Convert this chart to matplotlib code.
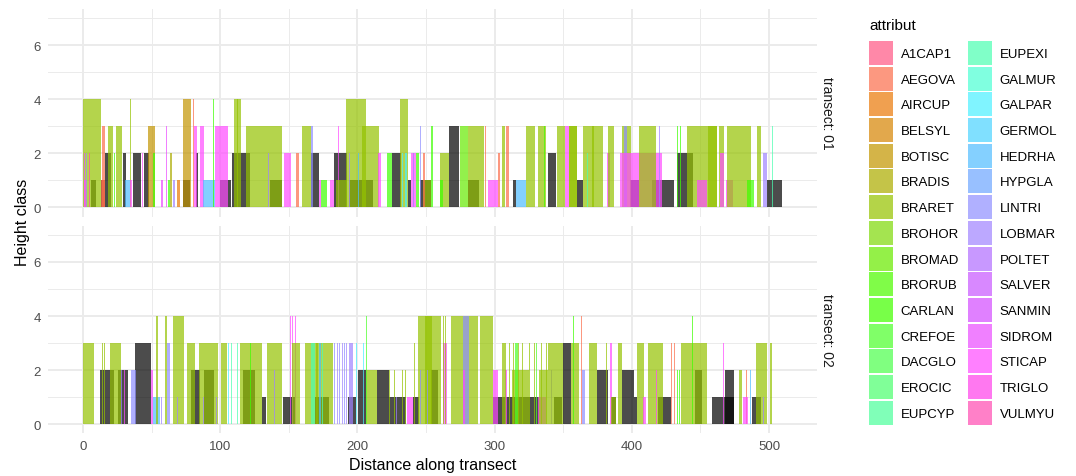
import numpy as np
import matplotlib.pyplot as plt
import matplotlib.colors as mcolors
from matplotlib.patches import Patch

# species codes and their legend key colours (as seen, alpha already applied)
species = ["A1CAP1", "AEGOVA", "AIRCUP", "BELSYL", "BOTISC", "BRADIS", "BRARET",
           "BROHOR", "BROMAD", "BRORUB", "CARLAN", "CREFOE", "DACGLO", "EROCIC",
           "EUPCYP", "EUPEXI", "GALMUR", "GALPAR", "GERMOL", "HEDRHA", "HYPGLA",
           "LINTRI", "LOBMAR", "POLTET", "SALVER", "SANMIN", "SIDROM", "STICAP",
           "TRIGLO", "VULMYU"]
key_hex = ["#FF88A8", "#FC9880", "#F0A050", "#E2A84C", "#D4B448", "#C4C448", "#B4D448",
           "#A4E450", "#94F048", "#80FC48", "#78FF48", "#80FF68", "#80FF80", "#80FF98",
           "#80FFB8", "#80FFC8", "#80FFE0", "#80F4FF", "#80E0FF", "#84D0FF", "#98C0FF",
           "#B0B0FF", "#BCA8FF", "#C898FF", "#D888FF", "#E080FF", "#F080FF", "#FF80FF",
           "#FF78F0", "#FF80C8"]

# segments along each transect: (start, end, height class, species)
seg_t01 = [
    (0.0, 12.9, 4, "BRARET"), (0.5, 1.4, 2, "SIDROM"), (2.4, 3.2, 2, "LOBMAR"),
    (4.4, 5.4, 2, "VULMYU"), (1.0, 2.0, 1, "STICAP"), (6.1, 9.7, 1, "NA"),
    (12.9, 16.3, 1, "NA"), (12.9, 16.3, 1, "AEGOVA"), (13.9, 15.8, 3, "AEGOVA"),
    (16.3, 20.2, 2, "NA"), (18.2, 22.1, 3, "BRARET"), (22.3, 22.9, 2, "CARLAN"),
    (24.1, 28.4, 3, "BRARET"), (29.2, 31.4, 2, "NA"), (30.4, 34.0, 1, "HEDRHA"),
    (34.5, 35.0, 4, "BRARET"), (34.5, 35.7, 1, "STICAP"), (36.5, 42.5, 2, "NA"),
    (43.0, 43.6, 2, "STICAP"), (44.5, 47.9, 2, "NA"), (47.4, 52.3, 3, "BOTISC"),
    (51.3, 52.3, 2, "CARLAN"), (56.6, 58.6, 1, "SIDROM"), (60.3, 61.0, 3, "SIDROM"),
    (62.0, 63.2, 1, "CARLAN"), (63.4, 64.9, 2, "BRADIS"), (65.6, 66.8, 1, "LOBMAR"),
    (68.5, 70.5, 1, "AIRCUP"), (72.9, 77.8, 1, "NA"), (72.9, 78.5, 4, "BOTISC"),
    (80.0, 80.5, 4, "AEGOVA"), (81.0, 82.9, 3, "STICAP"), (82.6, 83.8, 2, "NA"),
    (85.1, 88.2, 3, "STICAP"), (87.7, 96.0, 1, "HEDRHA"), (94.8, 95.5, 4, "CARLAN"),
    (96.0, 105.7, 3, "STICAP"), (99.6, 108.1, 1, "NA"), (108.9, 110.6, 2, "NA"),
    (110.6, 121.5, 2, "NA"), (110.1, 115.4, 4, "BRARET"), (112.0, 112.8, 4, "BRARET"),
    (118.6, 145.1, 3, "BRARET"), (136.1, 145.1, 1, "NA"), (134.6, 135.4, 2, "LOBMAR"),
    (146.5, 151.4, 2, "STICAP"), (155.5, 157.5, 2, "AEGOVA"), (159.7, 166.5, 3, "BRARET"),
    (166.0, 167.7, 3, "LINTRI"), (166.5, 172.2, 2, "NA"), (171.7, 173.2, 1, "STICAP"),
    (173.2, 178.1, 1, "CARLAN"), (180.0, 183.2, 1, "STICAP"), (185.6, 186.3, 3, "STICAP"),
    (183.2, 192.2, 2, "NA"), (184.4, 192.2, 1, "BRARET"), (194.1, 211.1, 1, "NA"),
    (191.7, 206.3, 4, "BRARET"), (203.3, 207.5, 3, "BRARET"), (207.5, 215.5, 3, "BRARET"),
    (194.0, 194.6, 2, "LOBMAR"), (200.8, 201.4, 2, "HEDRHA"), (214.8, 217.2, 2, "STICAP"),
    (221.3, 225.2, 2, "CARLAN"), (225.2, 231.8, 2, "NA"), (231.3, 236.9, 4, "BRARET"),
    (232.5, 233.4, 2, "GALPAR"), (235.0, 235.9, 2, "GALPAR"), (236.6, 239.1, 1, "NA"),
    (239.1, 242.7, 2, "STICAP"), (240.5, 241.1, 2, "LOBMAR"), (242.7, 245.1, 2, "CARLAN"),
    (245.6, 253.6, 1, "NA"), (247.6, 253.6, 1, "BRARET"), (248.0, 249.5, 2, "AEGOVA"),
    (245.6, 246.2, 3, "LINTRI"), (253.6, 255.3, 3, "CARLAN"), (255.5, 256.1, 3, "AEGOVA"),
    (260.2, 266.5, 2, "BRARET"), (260.2, 262.1, 1, "CARLAN"), (266.5, 273.8, 3, "NA"),
    (274.8, 280.4, 3, "BROMAD"), (280.4, 288.9, 1, "NA"), (280.4, 292.5, 3, "BRARET"),
    (293.2, 293.7, 3, "AEGOVA"), (295.0, 302.3, 1, "STICAP"), (302.7, 304.2, 2, "AEGOVA"),
    (305.4, 307.8, 3, "BRARET"), (308.3, 310.3, 3, "AEGOVA"), (313.2, 315.6, 1, "NA"),
    (315.6, 322.9, 1, "HEDRHA"), (322.9, 329.4, 3, "BRARET"), (331.4, 337.5, 3, "BRARET"),
    (335.8, 336.6, 3, "CARLAN"), (339.2, 344.5, 2, "NA"), (345.2, 351.3, 3, "BRARET"),
    (351.3, 354.5, 3, "STICAP"), (354.5, 360.3, 3, "BRARET"), (354.5, 360.3, 3, "BRARET"),
    (360.3, 364.4, 1, "NA"), (364.4, 379.0, 3, "BRARET"), (371.2, 372.4, 3, "BRARET"),
    (367.1, 367.9, 2, "EUPEXI"), (382.2, 384.1, 2, "STICAP"), (382.7, 387.0, 3, "BRARET"),
    (393.1, 399.7, 3, "BRARET"), (394.3, 396.8, 3, "LINTRI"), (391.2, 421.8, 2, "STICAP"),
    (398.7, 405.3, 1, "NA"), (405.3, 417.4, 3, "BRARET"), (420.0, 420.6, 3, "LOBMAR"),
    (415.0, 430.8, 1, "NA"), (433.2, 440.0, 2, "NA"), (433.1, 433.8, 3, "CARLAN"),
    (435.0, 435.7, 3, "CARLAN"), (440.0, 444.9, 2, "NA"), (440.0, 461.9, 3, "BRARET"),
    (455.6, 461.9, 3, "BRARET"), (447.8, 455.1, 1, "STICAP"), (463.6, 467.2, 3, "BRARET"),
    (464.1, 467.2, 2, "STICAP"), (468.4, 474.0, 1, "STICAP"), (469.7, 486.7, 3, "BRARET"),
    (483.8, 489.1, 1, "CARLAN"), (491.5, 494.4, 3, "BRARET"), (495.7, 498.3, 2, "LOBMAR"),
    (498.8, 509.5, 1, "NA"), (502.0, 503.2, 3, "EUPEXI"),
]

seg_t02 = [
    (0.0, 8.0, 3, "BRARET"), (13.9, 14.4, 3, "BRARET"), (15.3, 15.8, 3, "BRARET"),
    (12.4, 19.4, 2, "NA"), (19.4, 22.6, 2, "NA"), (19.4, 27.5, 3, "BRARET"),
    (25.5, 32.8, 2, "NA"), (27.4, 28.0, 2, "LOBMAR"), (29.9, 30.9, 2, "STICAP"),
    (35.2, 38.9, 2, "LINTRI"), (38.2, 49.8, 3, "NA"), (49.3, 51.3, 2, "STICAP"),
    (51.0, 55.9, 1, "HEDRHA"), (53.5, 54.4, 4, "BRARET"), (57.1, 57.7, 1, "LOBMAR"),
    (60.0, 61.5, 4, "BRARET"), (61.5, 63.4, 3, "LINTRI"), (65.6, 73.4, 4, "BRARET"),
    (68.5, 69.3, 1, "LOBMAR"), (76.1, 81.9, 3, "BRARET"), (79.0, 85.0, 2, "NA"),
    (84.3, 98.4, 3, "BRARET"), (88.2, 95.5, 2, "NA"), (87.7, 88.3, 1, "LOBMAR"),
    (96.8, 97.4, 1, "LOBMAR"), (100.8, 104.7, 3, "BRARET"), (105.7, 106.3, 3, "GALPAR"),
    (108.1, 108.7, 3, "EUPEXI"), (112.5, 113.1, 3, "EUPEXI"), (114.2, 130.5, 3, "BRARET"),
    (116.6, 125.1, 2, "NA"), (121.7, 122.7, 3, "CARLAN"), (130.5, 133.6, 1, "NA"),
    (134.1, 145.1, 3, "BRARET"), (139.2, 139.8, 2, "LOBMAR"), (145.8, 154.3, 1, "NA"),
    (150.9, 151.4, 4, "STICAP"), (152.6, 153.1, 4, "STICAP"), (154.3, 155.0, 4, "STICAP"),
    (152.6, 158.0, 3, "BRARET"), (161.6, 171.3, 3, "BRARET"), (166.5, 168.9, 3, "EUPEXI"),
    (168.9, 171.3, 1, "NA"), (169.8, 182.0, 3, "BRARET"), (172.2, 173.2, 3, "HEDRHA"),
    (174.2, 174.7, 3, "EUPEXI"), (169.8, 179.5, 1, "NA"), (183.2, 183.8, 3, "LINTRI"),
    (184.9, 185.5, 3, "LOBMAR"), (186.8, 187.4, 3, "LINTRI"), (188.8, 189.4, 3, "LOBMAR"),
    (190.5, 191.1, 3, "LINTRI"), (191.7, 192.3, 3, "LOBMAR"), (194.1, 196.5, 3, "LOBMAR"),
    (192.9, 199.0, 1, "NA"), (199.0, 199.7, 3, "GALPAR"), (203.8, 204.5, 3, "GALPAR"),
    (200.2, 206.3, 2, "NA"), (206.3, 214.3, 2, "BRARET"), (206.3, 206.8, 4, "CREFOE"),
    (214.3, 222.8, 2, "NA"), (223.3, 223.8, 2, "BRARET"), (226.9, 227.4, 2, "BRARET"),
    (232.5, 233.0, 2, "BRARET"), (234.9, 235.4, 2, "BRARET"), (222.8, 235.4, 1, "NA"),
    (228.1, 228.7, 1, "LOBMAR"), (235.9, 240.3, 1, "STICAP"), (241.5, 242.0, 3, "BRARET"),
    (240.3, 245.1, 1, "NA"), (244.4, 260.9, 4, "BRARET"), (249.5, 254.1, 4, "BRARET"),
    (253.6, 258.5, 2, "NA"), (245.6, 246.2, 2, "LINTRI"), (250.5, 251.1, 2, "LINTRI"),
    (262.1, 265.1, 3, "STICAP"), (262.1, 262.7, 4, "BRARET"), (264.1, 264.6, 4, "BRARET"),
    (268.2, 287.7, 4, "BRARET"), (277.0, 281.1, 4, "LINTRI"), (276.7, 278.7, 2, "STICAP"),
    (289.4, 299.1, 4, "BRARET"), (298.6, 309.5, 1, "NA"), (299.1, 302.2, 2, "STICAP"),
    (307.8, 308.8, 2, "STICAP"), (305.4, 308.3, 3, "BRARET"), (310.7, 311.2, 3, "BRARET"),
    (313.6, 314.1, 3, "BRARET"), (316.8, 317.3, 3, "BRARET"), (320.0, 320.5, 3, "BRARET"),
    (325.3, 325.8, 3, "BRARET"), (329.0, 329.5, 3, "BRARET"), (312.7, 325.3, 2, "BRARET"),
    (314.9, 316.8, 3, "CREFOE"), (330.2, 330.8, 3, "CREFOE"), (309.5, 332.6, 1, "NA"),
    (331.4, 337.5, 1, "STICAP"), (332.1, 338.7, 2, "BRARET"), (334.1, 334.6, 3, "BRARET"),
    (337.6, 338.1, 3, "BRARET"), (341.1, 341.7, 2, "LOBMAR"), (338.7, 350.1, 3, "BRARET"),
    (343.3, 349.4, 1, "NA"), (350.1, 355.5, 3, "NA"), (355.5, 361.5, 3, "BRARET"),
    (357.2, 357.7, 4, "CARLAN"), (363.0, 363.5, 4, "AEGOVA"), (364.0, 365.7, 2, "LINTRI"),
    (368.8, 374.9, 3, "BRARET"), (374.9, 382.7, 2, "NA"), (381.4, 382.1, 3, "BRARET"),
    (384.1, 385.3, 3, "STICAP"), (384.6, 388.3, 1, "NA"), (384.6, 388.3, 1, "BRARET"),
    (390.0, 393.1, 3, "BRARET"), (393.1, 401.6, 2, "NA"), (401.6, 404.0, 1, "NA"),
    (404.0, 408.9, 3, "BRARET"), (408.4, 410.6, 1, "STICAP"), (411.8, 422.5, 3, "BRARET"),
    (418.0, 418.7, 2, "STICAP"), (419.4, 428.4, 1, "NA"), (428.8, 429.3, 3, "AEGOVA"),
    (430.7, 431.2, 3, "AEGOVA"), (432.7, 433.4, 2, "CARLAN"), (434.6, 435.3, 2, "CARLAN"),
    (435.6, 455.1, 3, "BRARET"), (443.9, 444.4, 4, "CARLAN"), (445.8, 451.4, 2, "NA"),
    (466.5, 467.2, 3, "STICAP"), (458.2, 474.5, 1, "NA"), (467.7, 474.5, 2, "NA"),
    (478.4, 480.6, 2, "BRARET"), (483.6, 484.1, 2, "AEGOVA"), (481.1, 484.7, 1, "STICAP"),
    (486.0, 486.7, 2, "HEDRHA"), (487.9, 494.0, 1, "NA"), (490.3, 498.8, 3, "BRARET"),
    (500.8, 502.0, 3, "BRARET"), (495.9, 496.6, 1, "LOBMAR"),
]

facets = ["transect: 01", "transect: 02"]
x_ticks = [0, 100, 200, 300, 400, 500]
y_ticks = [0, 2, 4, 6]

ALPHA = 0.7
plt.rcParams['font.family'] = ['Liberation Sans', 'DejaVu Sans']

key_rgb = np.array([mcolors.to_rgb(c) for c in key_hex])
base_rgb = np.clip((key_rgb - (1 - ALPHA)) / ALPHA, 0, 1)
fill = {sp: tuple(c) for sp, c in zip(species, base_rgb)}
fill["NA"] = (0.0, 0.0, 0.0)

fig = plt.figure(figsize=(10.76, 4.77), dpi=100, facecolor="white")
ax1 = fig.add_axes([0.0446, 0.544, 0.7147, 0.436])
ax2 = fig.add_axes([0.0446, 0.0891, 0.7147, 0.436])

for ax, segs, lab in zip([ax1, ax2], [seg_t01, seg_t02], facets):
    # unassigned (NA) segments are drawn underneath the species
    segs = [s for s in segs if s[3] == "NA"] + [s for s in segs if s[3] != "NA"]
    x0 = np.array([s[0] for s in segs])
    x1 = np.array([s[1] for s in segs])
    h = np.array([s[2] for s in segs])
    cols = [fill[s[3]] for s in segs]
    ax.bar(x0, h, width=np.maximum(x1 - x0, 0.7), align="edge", color=cols,
           alpha=ALPHA, linewidth=0, zorder=3)

    ax.set_xlim(-25.5, 535)
    ax.set_ylim(-0.35, 7.35)
    ax.set_xticks(x_ticks)
    ax.set_xticks([50, 150, 250, 350, 450], minor=True)
    ax.set_yticks(y_ticks)
    ax.set_yticks([1, 3, 5, 7], minor=True)
    ax.grid(True, which="major", color="#EBEBEB", linewidth=1.4, zorder=0)
    ax.grid(True, which="minor", color="#EBEBEB", linewidth=0.7, zorder=0)
    ax.set_axisbelow(True)
    for sp in ax.spines.values():
        sp.set_visible(False)
    ax.tick_params(which="both", length=0, labelsize=9.5, labelcolor="#4D4D4D", pad=5)
    ax.text(1.013, 0.5, lab, transform=ax.transAxes, rotation=-90, ha="center",
            va="center", fontsize=10, color="#1A1A1A")

ax1.tick_params(axis="x", labelbottom=False)

fig.text(0.0205, 1 - 222 / 477, "Height class", rotation=90, ha="center", va="center",
         fontsize=11.5)
fig.text(0.402, 1 - 466 / 477, "Distance along transect", ha="center", va="center",
         fontsize=11.5)

handles = [Patch(facecolor=c, edgecolor="none") for c in key_hex]
leg = fig.legend(handles, species, ncol=2, loc="upper left",
                 bbox_to_anchor=(857 / 1076, 1 - 7 / 477), frameon=False,
                 title="attribut", title_fontsize=11, fontsize=9.5,
                 handlelength=1.82, handleheight=2.42, labelspacing=0.13,
                 handletextpad=0.6, columnspacing=0.65, alignment="left")
leg._legend_box.sep = 6.5  # a bit more room under the title

fig.savefig("out.png", dpi=100, facecolor="white")
